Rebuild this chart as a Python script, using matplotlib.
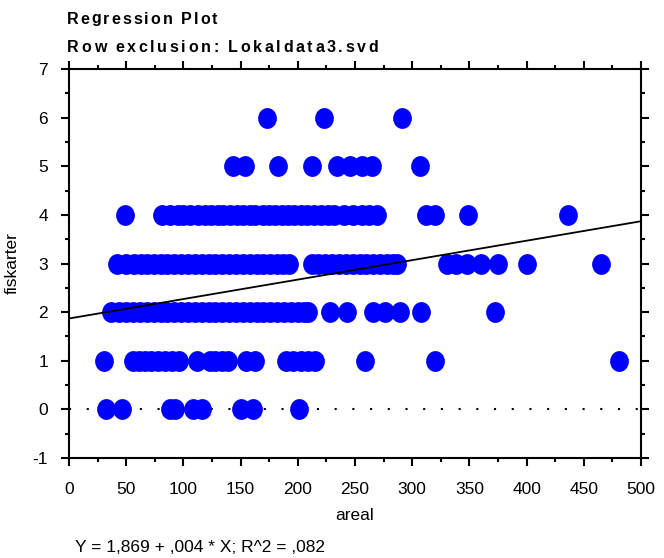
import numpy as np
import matplotlib
matplotlib.use("Agg")
import matplotlib.pyplot as plt
from matplotlib.path import Path
from matplotlib.transforms import Affine2D

plt.rcParams['font.family'] = ['Liberation Sans', 'DejaVu Sans']
plt.rcParams['axes.unicode_minus'] = False

# data: areal (x) values for each fiskarter (y) count
x_y0 = [32, 46, 88, 93, 108, 116, 150, 161, 201]
x_y1 = [31, 56, 61, 66, 72, 78, 84, 90, 96, 112, 123, 128, 134, 139, 155, 163,
        190, 196, 203, 209, 215, 259, 320, 481]
x_y2 = [37, 44, 50, 56, 62, 68, 74, 80, 86, 92, 98, 104, 110, 116, 122, 128, 134,
        140, 146, 152, 158, 164, 170, 176, 182, 188, 194, 200, 205, 209, 228, 243,
        266, 276, 289, 308, 372]
x_y3 = [42, 50, 57, 63, 68, 74, 80, 86, 92, 98, 104, 110, 116, 122, 128, 134, 140,
        146, 152, 158, 164, 170, 176, 182, 187, 192, 212, 218, 224, 230, 236, 242,
        248, 254, 260, 266, 272, 278, 283, 287, 330, 338, 348, 360, 375, 400, 465]
x_y4 = [49, 81, 88, 95, 100, 106, 113, 119, 124, 130, 135, 141, 147, 152, 158, 163,
        170, 175, 180, 186, 191, 197, 203, 208, 214, 220, 226, 232, 240, 248, 256,
        262, 269, 312, 320, 349, 436]
x_y5 = [143, 154, 183, 212, 234, 246, 256, 265, 307]
x_y6 = [173, 223, 291]
rows = [x_y0, x_y1, x_y2, x_y3, x_y4, x_y5, x_y6]

intercept = 1.869
slope = 0.004
title1 = 'Regression Plot'
title2 = 'Row exclusion: Lokaldata3.svd'
equation = "Y = 1,869 + ,004 * X; R^2 = ,082"

xs = np.concatenate([np.array(r, float) for r in rows])
ys = np.concatenate([np.full(len(r), i, float) for i, r in enumerate(rows)])

fig = plt.figure(figsize=(6.64, 5.58), dpi=100)
ax = fig.add_axes([69/664, 1-458/558, 572/664, 389/558])

ell = Path.unit_circle().transformed(Affine2D().scale(0.9, 1.0))
ax.plot(xs, ys, linestyle='none', marker=ell, markersize=15, color='#0000ff',
        markeredgewidth=0, zorder=3)

xl = np.array([0, 500])
ax.plot(xl, intercept + slope * xl, color='black', lw=1.3, zorder=4)
ax.plot(xl, [0, 0], color='black', lw=1.5, dashes=(1, 7.5), zorder=2)

ax.set_xlim(0, 500)
ax.set_ylim(-1, 7)
ax.set_xticks(np.arange(0, 501, 50))
ax.set_xticks(np.arange(25, 500, 50), minor=True)
ax.set_yticks(np.arange(-1, 8, 1))
ax.set_yticks(np.arange(-0.5, 7, 1), minor=True)
ax.tick_params(which='both', top=True, right=True, direction='out', width=1.5,
               labelsize=12.5)
ax.tick_params(which='major', length=6)
ax.tick_params(which='minor', length=3)
ax.tick_params(axis='x', which='major', pad=11)
ax.tick_params(axis='y', which='major', pad=9)
for s in ax.spines.values():
    s.set_linewidth(1.5)

ax.set_xlabel('areal', fontsize=12.5, labelpad=8)
ax.set_ylabel('fiskarter', fontsize=12.5, labelpad=9)

renderer = fig.canvas.get_renderer()


def spaced_text(x0, y, s, spacing_px, **kw):
    x = x0
    for ch in s:
        t = fig.text(x / 664, 1 - y / 558, ch, va='center', ha='left', **kw)
        w = t.get_window_extent(renderer=renderer).width
        if ch == ' ':
            w = t.get_fontsize() * 100 / 72 * 0.28
        x += w + spacing_px


spaced_text(67, 19, title1, 2.0, fontsize=11.5, fontweight='bold')
spaced_text(67, 48, title2, 2.6, fontsize=11.5, fontweight='bold')
fig.text(75/664, 1-548/558, equation, fontsize=12.5, va='center', ha='left')

fig.savefig('out.png', dpi=100)
